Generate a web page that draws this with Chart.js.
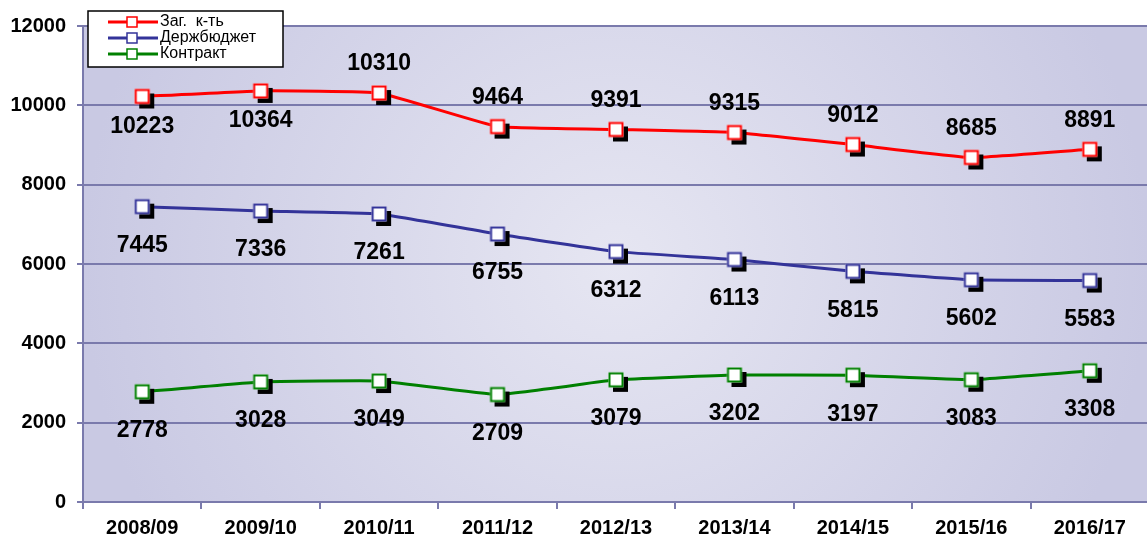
<!DOCTYPE html>
<html>
<head>
<meta charset="utf-8">
<script src="https://cdn.jsdelivr.net/npm/chart.js@4"></script>
<style>
  html, body { margin: 0; padding: 0; background: #fff; overflow: hidden; }
  #wrap { position: relative; width: 1160px; height: 545px; }
</style>
</head>
<body>
<div id="wrap"><canvas id="chart-1"></canvas></div>
<script>
const years = ['2008/09', '2009/10', '2010/11', '2011/12', '2012/13', '2013/14', '2014/15', '2015/16', '2016/17'];
const totalValues = [10223, 10364, 10310, 9464, 9391, 9315, 9012, 8685, 8891];
const budgetValues = [7445, 7336, 7261, 6755, 6312, 6113, 5815, 5602, 5583];
const contractValues = [2778, 3028, 3049, 2709, 3079, 3202, 3197, 3083, 3308];
const seriesNames = ['Заг.  к-ть', 'Держбюджет', 'Контракт'];
const yTicks = [0, 2000, 4000, 6000, 8000, 10000, 12000];

// which red labels sit above the point
const totalAbove = [false, false, true, true, true, true, true, true, true];

const FONT = "'Liberation Sans', Arial, sans-serif";

const makeMarker = (color) => {
  const c = document.createElement('canvas');
  c.width = 26;
  c.height = 26;
  const g = c.getContext('2d');
  g.fillStyle = '#000';
  g.fillRect(10, 10, 15, 15);
  g.fillStyle = '#fff';
  g.fillRect(5.5, 5.5, 15, 15);
  g.strokeStyle = color;
  g.lineWidth = 2;
  g.strokeRect(6.5, 6.5, 13, 13);
  return c;
};

const bgPlugin = {
  id: 'bg',
  beforeDraw(chart) {
    const { ctx, chartArea: a } = chart;
    const cx = (a.left + a.right) / 2;
    const cy = (a.top + a.bottom) / 2;
    const g = ctx.createRadialGradient(cx, cy, 0, cx, cy, (a.right - a.left) / 2);
    g.addColorStop(0, '#e6e6f2');
    g.addColorStop(1, '#c9c9e3');
    ctx.save();
    ctx.fillStyle = g;
    ctx.fillRect(a.left, a.top, a.right - a.left, a.bottom - a.top);
    ctx.restore();
  },
};

const labelPlugin = {
  id: 'valueLabels',
  afterDatasetsDraw(chart) {
    const { ctx } = chart;
    ctx.save();
    ctx.font = 'bold 23px ' + FONT;
    ctx.fillStyle = '#000';
    ctx.textAlign = 'center';
    ctx.textBaseline = 'middle';
    chart.data.datasets.forEach((ds, i) => {
      chart.getDatasetMeta(i).data.forEach((pt, j) => {
        let dy = 39;
        if (i === 0) dy = totalAbove[j] ? -29 : 30;
        ctx.fillText(ds.data[j], pt.x, pt.y + dy);
      });
    });
    ctx.restore();
  },
};

const legendPlugin = {
  id: 'boxLegend',
  afterDraw(chart) {
    const { ctx } = chart;
    const colors = ['#ff0000', '#333399', '#008000'];
    ctx.save();
    ctx.fillStyle = '#fff';
    ctx.fillRect(88, 11, 195, 56);
    ctx.strokeStyle = '#000';
    ctx.lineWidth = 1.5;
    ctx.strokeRect(88, 11, 195, 56);
    ctx.font = '16px ' + FONT;
    ctx.textBaseline = 'middle';
    seriesNames.forEach((name, i) => {
      const y = 22 + i * 16;
      ctx.strokeStyle = colors[i];
      ctx.lineWidth = 3;
      ctx.beginPath();
      ctx.moveTo(108, y);
      ctx.lineTo(158, y);
      ctx.stroke();
      ctx.fillStyle = '#fff';
      ctx.fillRect(127, y - 5, 10, 10);
      ctx.lineWidth = 1.5;
      ctx.strokeRect(127, y - 5, 10, 10);
      ctx.fillStyle = '#000';
      ctx.fillText(name, 160, y);
    });
    ctx.restore();
  },
};

const lineSet = (label, values, color) => ({
  label: label,
  data: values,
  borderColor: color,
  borderWidth: 3,
  tension: 0.1,
  pointStyle: makeMarker(color),
  pointRadius: 8,
});

const gridColor = '#7a7aac';

const config = {
  type: 'line',
  data: {
    labels: years,
    datasets: [
      lineSet(seriesNames[0], totalValues, '#ff0000'),
      lineSet(seriesNames[1], budgetValues, '#333399'),
      lineSet(seriesNames[2], contractValues, '#008000'),
    ],
  },
  options: {
    responsive: false,
    animation: false,
    layout: { padding: { top: 26, right: 7, left: 0, bottom: 0 } },
    plugins: {
      legend: { display: false },
      tooltip: { enabled: false },
    },
    scales: {
      x: {
        offset: true,
        grid: { display: true, drawOnChartArea: false, offset: true, color: gridColor, lineWidth: 2, tickLength: 7 },
        border: { color: gridColor, width: 2 },
        ticks: { color: '#000', font: { family: FONT, size: 20, weight: 'bold' }, padding: 7, maxRotation: 0 },
        afterFit: (s) => { s.height = 43; },
      },
      y: {
        min: 0,
        max: 12000,
        afterBuildTicks: (s) => { s.ticks = yTicks.map((v) => ({ value: v })); },
        grid: { color: gridColor, lineWidth: 2, tickLength: 6 },
        border: { color: gridColor, width: 2 },
        ticks: {
          color: '#000',
          font: { family: FONT, size: 20, weight: 'bold' },
          padding: 11,
          callback: (v) => String(v),
        },
        afterFit: (s) => { s.width = 83; },
      },
    },
  },
  plugins: [bgPlugin, labelPlugin, legendPlugin],
};

const canvas = document.getElementById('chart-1');
canvas.width = 1160;
canvas.height = 545;
const chart1 = new Chart(canvas, config);
</script>
</body>
</html>
